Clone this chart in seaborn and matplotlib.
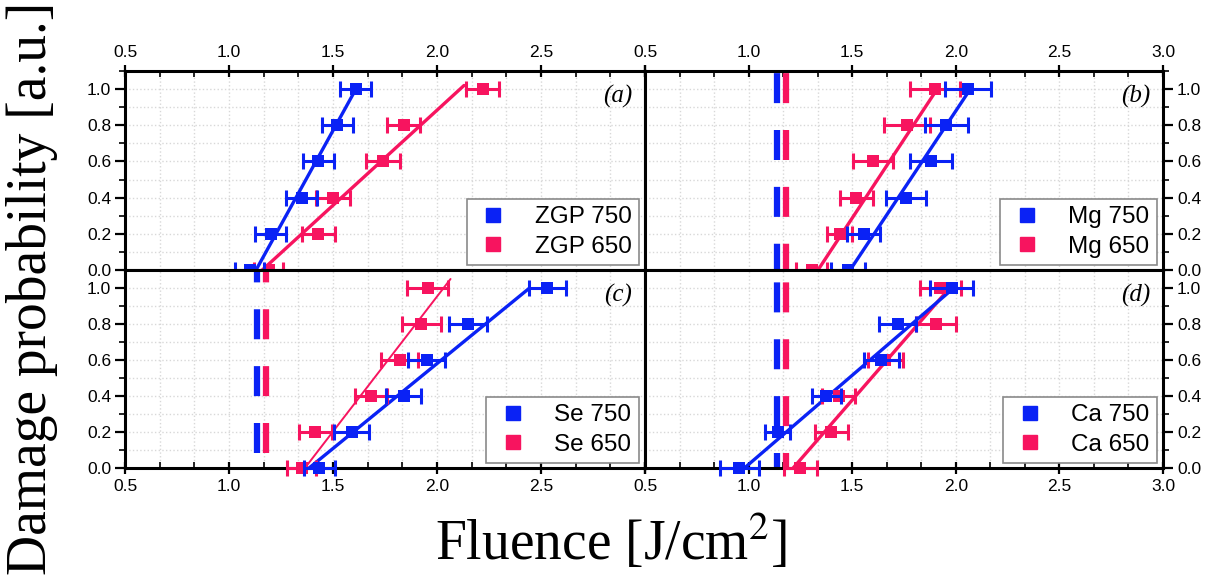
import numpy as np
import pandas as pd
import matplotlib
matplotlib.use("Agg")
import matplotlib.pyplot as plt
import seaborn as sns
from matplotlib.ticker import MultipleLocator, FuncFormatter
from matplotlib.lines import Line2D

# ---------------- data ----------------
prob = [0.0, 0.2, 0.4, 0.6, 0.8, 1.0]

zgp750_x = [1.10, 1.20, 1.35, 1.43, 1.52, 1.61]
zgp750_err = [0.07, 0.075, 0.075, 0.075, 0.075, 0.075]
zgp650_x = [1.19, 1.43, 1.50, 1.74, 1.84, 2.22]
zgp650_err = [0.07, 0.08, 0.08, 0.08, 0.08, 0.08]
zgp750_fit_x = [1.13, 1.61]
zgp750_fit_y = [0.0, 1.0]
zgp650_fit_x = [1.16, 2.13]
zgp650_fit_y = [0.0, 1.02]

mg750_x = [1.48, 1.555, 1.76, 1.88, 1.955, 2.06]
mg750_err = [0.08, 0.08, 0.095, 0.10, 0.105, 0.11]
mg650_x = [1.305, 1.44, 1.52, 1.60, 1.765, 1.90]
mg650_err = [0.075, 0.06, 0.08, 0.095, 0.11, 0.12]
mg750_fit_x = [1.49, 2.07]
mg750_fit_y = [0.0, 1.0]
mg650_fit_x = [1.335, 1.91]
mg650_fit_y = [0.0, 1.0]

se750_x = [1.435, 1.59, 1.84, 1.95, 2.15, 2.53]
se750_err = [0.075, 0.085, 0.085, 0.088, 0.09, 0.09]
se650_x = [1.35, 1.415, 1.685, 1.82, 1.925, 1.955]
se650_err = [0.07, 0.08, 0.077, 0.09, 0.095, 0.10]
se750_fit_x = [1.385, 2.445]
se750_fit_y = [0.0, 1.0]
se650_fit_x = [1.365, 2.065]
se650_fit_y = [0.0, 1.05]

ca750_x = [0.955, 1.14, 1.375, 1.64, 1.72, 1.98]
ca750_err = [0.095, 0.06, 0.07, 0.085, 0.09, 0.105]
ca650_x = [1.25, 1.40, 1.435, 1.66, 1.905, 1.925]
ca650_err = [0.08, 0.08, 0.08, 0.085, 0.095, 0.10]
ca750_fit_x = [0.98, 1.99]
ca750_fit_y = [0.0, 1.0]
ca650_fit_x = [1.215, 1.97]
ca650_fit_y = [0.0, 1.0]

threshold_750 = 1.135
threshold_650 = 1.18

panel_tags = ["(a)", "(b)", "(c)", "(d)"]
series_names = [("ZGP 750", "ZGP 650"), ("Mg 750", "Mg 650"),
                ("Se 750", "Se 650"), ("Ca 750", "Ca 650")]

BLUE = "#0a22f5"
PINK = "#f7145f"

# ---------------- style ----------------
sns.set_theme(style="white")
plt.rcParams["font.family"] = ["Liberation Sans", "DejaVu Sans"]
plt.rcParams["mathtext.fontset"] = "stix"
plt.rcParams["text.color"] = "black"
plt.rcParams["xtick.color"] = "black"
plt.rcParams["ytick.color"] = "black"
plt.rcParams["xtick.labelcolor"] = "black"
plt.rcParams["ytick.labelcolor"] = "black"

fig = plt.figure(figsize=(12.18, 5.76), dpi=100)
W, H = 1218.0, 576.0

def add_axes(x0, x1, y0, y1):
    return fig.add_axes([x0 / W, 1 - y1 / H, (x1 - x0) / W, (y1 - y0) / H])

ax_a = add_axes(125, 645, 71, 270)
ax_b = add_axes(645, 1163, 71, 270)
ax_c = add_axes(125, 645, 270, 468)
ax_d = add_axes(645, 1163, 270, 468)
axes = [ax_a, ax_b, ax_c, ax_d]

panels = [
    (zgp750_x, zgp750_err, zgp650_x, zgp650_err, zgp750_fit_x, zgp750_fit_y, zgp650_fit_x, zgp650_fit_y),
    (mg750_x, mg750_err, mg650_x, mg650_err, mg750_fit_x, mg750_fit_y, mg650_fit_x, mg650_fit_y),
    (se750_x, se750_err, se650_x, se650_err, se750_fit_x, se750_fit_y, se650_fit_x, se650_fit_y),
    (ca750_x, ca750_err, ca650_x, ca650_err, ca750_fit_x, ca750_fit_y, ca650_fit_x, ca650_fit_y),
]
show_threshold = [False, True, True, True]
dash_offsets = [0.0, 0.6, 6.7, 2.4]
pink_fit_lw = [2.4, 2.4, 1.4, 2.4]

for i, ax in enumerate(axes):
    bx, bxe, px, pxe, bfx, bfy, pfx, pfy = panels[i]
    ax.set_facecolor("white")
    ax.set_xlim(0.5, 3.0)
    ax.set_ylim(0.0, 1.1)

    # grid
    ax.xaxis.set_major_locator(MultipleLocator(0.5))
    ax.xaxis.set_minor_locator(MultipleLocator(0.5 / 3))
    ax.yaxis.set_major_locator(MultipleLocator(0.2))
    ax.yaxis.set_minor_locator(MultipleLocator(0.1))
    ax.grid(which="both", color="#d8d8d8", linestyle=":", linewidth=1.0)
    ax.set_axisbelow(True)

    if show_threshold[i]:
        off = dash_offsets[i]
        ax.axvline(threshold_750, color=BLUE, lw=4.5,
                   linestyle=(off, (4.8, 4.3)), zorder=2)
        ax.axvline(threshold_650, color=PINK, lw=4.5,
                   linestyle=(off, (4.8, 4.3)), zorder=2)

    # fit lines
    df_pf = pd.DataFrame({"x": pfx, "y": pfy})
    df_bf = pd.DataFrame({"x": bfx, "y": bfy})
    sns.lineplot(data=df_pf, x="x", y="y", ax=ax, color=PINK, lw=pink_fit_lw[i],
                 sort=False, estimator=None, zorder=3)
    sns.lineplot(data=df_bf, x="x", y="y", ax=ax, color=BLUE, lw=2.4,
                 sort=False, estimator=None, zorder=4)

    # error bars + points
    for xs, xe, col, z in [(px, pxe, PINK, 5), (bx, bxe, BLUE, 6)]:
        eb = ax.errorbar(xs, prob, xerr=xe, fmt="none", ecolor=col,
                         elinewidth=2.2, capsize=5.5, capthick=2.2, zorder=z)
        for art in eb.get_children():
            art.set_clip_on(False)
        sns.scatterplot(x=xs, y=prob, ax=ax, color=col, marker="s", s=70,
                        edgecolor=col, linewidth=0, zorder=z + 0.5, clip_on=False)

    # spines
    for sp in ax.spines.values():
        sp.set_linewidth(2.2)
        sp.set_color("black")
        sp.set_visible(True)

    top_row = i < 2
    left_col = i % 2 == 0
    ax.tick_params(axis="x", which="major", direction="inout", length=8, width=1.6,
                   top=top_row, bottom=not top_row,
                   labeltop=top_row, labelbottom=not top_row,
                   labelsize=12.5, pad=4, colors="black")
    ax.tick_params(axis="x", which="minor", direction="in", length=4, width=1.2,
                   top=top_row, bottom=not top_row)
    ax.tick_params(axis="y", which="major", direction="out", length=7, width=1.6,
                   left=left_col, right=not left_col,
                   labelleft=left_col, labelright=not left_col,
                   labelsize=12.5, pad=3, colors="black")
    ax.tick_params(axis="y", which="minor", direction="out", length=4, width=1.2,
                   left=left_col, right=not left_col)

    if left_col:
        ax.xaxis.set_major_formatter(FuncFormatter(
            lambda v, p: "" if abs(v - 3.0) < 1e-6 else f"{v:.1f}"))
    else:
        ax.xaxis.set_major_formatter(FuncFormatter(lambda v, p: f"{v:.1f}"))
    ax.yaxis.set_major_formatter(FuncFormatter(lambda v, p: f"{v:.1f}"))
    ax.set_xlabel("")
    ax.set_ylabel("")

    # panel tag
    ax.text(0.975, 0.87, panel_tags[i], transform=ax.transAxes, ha="right",
            va="center", fontsize=18, style="italic", color="black",
            family=["Liberation Serif", "DejaVu Serif"], zorder=10)

    # legend
    n750, n650 = series_names[i]
    handles = [Line2D([], [], color=BLUE, marker="s", ls="none", markersize=10),
               Line2D([], [], color=PINK, marker="s", ls="none", markersize=10)]
    leg = ax.legend(handles, [n750, n650], loc="lower right",
                    bbox_to_anchor=(0.988, 0.025), fontsize=17.5, frameon=True,
                    fancybox=False, edgecolor="#8a8a8a", framealpha=1,
                    borderpad=0.3, handlelength=1.6, handletextpad=0.9,
                    labelspacing=0.3, borderaxespad=0.0)
    leg.get_frame().set_linewidth(1.2)
    for t in leg.get_texts():
        t.set_color("black")
    leg.set_zorder(20)

fig.text(0.026, 0.5, "Damage probability [a.u.]", rotation=90, ha="center",
         va="center", fontsize=40, color="black",
         family=["Liberation Serif", "DejaVu Serif"])
fig.text(0.502, 0.028, r"Fluence [J/cm$^{2}$]", ha="center", va="baseline",
         fontsize=40, color="black",
         family=["Liberation Serif", "DejaVu Serif"])

fig.savefig("out.png", dpi=100)
